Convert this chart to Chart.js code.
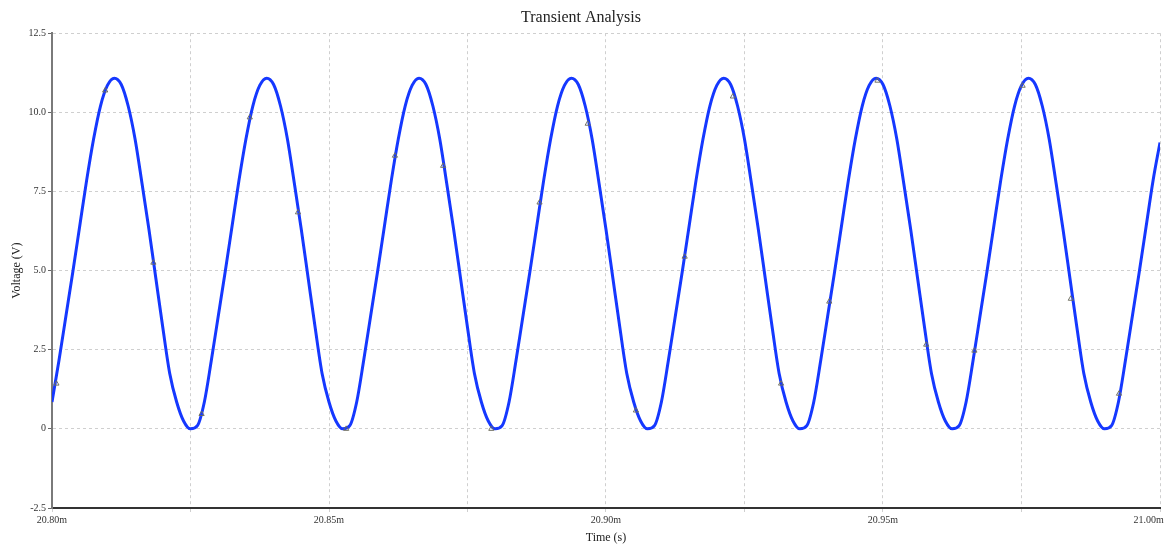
<!DOCTYPE html>
<html lang="en">
<head>
    <meta charset="UTF-8">
    <title>Transient Analysis</title>
    <script src="https://cdn.jsdelivr.net/npm/chart.js"></script>
    <style>
        body {
            margin: 0;
            background: #fff;
        }
    </style>
</head>
<body>
    <canvas id="tran-chart" width="1168" height="547"></canvas>

    <script>
        // Sampling grid of the trace (ms), one sample every 1.25 us
        const t0 = 20.80;
        const sampleStep = 0.00125;

        // Voltage at each sample (V)
        const volts = [
            0.85, 2.15, 3.55, 4.95, 6.40, 7.85, 9.15, 10.20, 10.85, 11.08, 10.88, 10.20, 9.15, 7.75, 6.30, 4.75, 3.20, 1.75, 0.85, 0.25,
            0.00, 0.10, 0.85, 2.15, 3.55, 4.95, 6.40, 7.85, 9.15, 10.20, 10.85, 11.08, 10.88, 10.20, 9.15, 7.75, 6.30, 4.75, 3.20, 1.75, 0.85, 0.25,
            0.00, 0.10, 0.85, 2.15, 3.55, 4.95, 6.40, 7.85, 9.15, 10.20, 10.85, 11.08, 10.88, 10.20, 9.15, 7.75, 6.30, 4.75, 3.20, 1.75, 0.85, 0.25,
            0.00, 0.10, 0.85, 2.15, 3.55, 4.95, 6.40, 7.85, 9.15, 10.20, 10.85, 11.08, 10.88, 10.20, 9.15, 7.75, 6.30, 4.75, 3.20, 1.75, 0.85, 0.25,
            0.00, 0.10, 0.85, 2.15, 3.55, 4.95, 6.40, 7.85, 9.15, 10.20, 10.85, 11.08, 10.88, 10.20, 9.15, 7.75, 6.30, 4.75, 3.20, 1.75, 0.85, 0.25,
            0.00, 0.10, 0.85, 2.15, 3.55, 4.95, 6.40, 7.85, 9.15, 10.20, 10.85, 11.08, 10.88, 10.20, 9.15, 7.75, 6.30, 4.75, 3.20, 1.75, 0.85, 0.25,
            0.00, 0.10, 0.85, 2.15, 3.55, 4.95, 6.40, 7.85, 9.15, 10.20, 10.85, 11.08, 10.88, 10.20, 9.15, 7.75, 6.30, 4.75, 3.20, 1.75, 0.85, 0.25,
            0.00, 0.10, 0.85, 2.15, 3.55, 4.95, 6.40, 7.85, 9.05
        ];

        // Little grey step markers drawn on the trace
        const markerTimes = [20.8008, 20.8096, 20.8183, 20.8270, 20.8357, 20.8444, 20.8531, 20.8619, 20.8706, 20.8793, 20.8880, 20.8967,
            20.9054, 20.9142, 20.9229, 20.9316, 20.9403, 20.9490, 20.9578, 20.9665, 20.9752, 20.9839, 20.9926];
        const markerVolts = [1.43, 10.69, 5.25, 0.47, 9.84, 6.84, 0.00, 8.63, 8.31, 0.00, 7.15, 9.64,
            0.58, 5.44, 10.50, 1.43, 4.02, 11.00, 2.66, 2.47, 10.84, 4.11, 1.11];

        const yTicks = [-2.5, 0, 2.5, 5.0, 7.5, 10.0, 12.5];
        const xMin = 20.80, xMax = 21.00, xMinorStep = 0.025, xLabelStep = 0.05;

        const times = volts.map((v, i) => t0 + i * sampleStep);
        const serif = '"Liberation Serif", "Times New Roman", serif';

        const ctx = document.getElementById('tran-chart').getContext('2d');
        new Chart(ctx, {
            type: 'line',
            data: {
                datasets: [
                    {
                        label: 'markers',
                        data: markerTimes.map((t, i) => ({ x: t, y: markerVolts[i] })),
                        showLine: false,
                        pointStyle: 'triangle',
                        pointRadius: 3,
                        pointBorderWidth: 1,
                        pointBorderColor: 'rgba(110, 110, 95, 0.95)',
                        pointBackgroundColor: 'rgba(0,0,0,0)',
                        order: 0,
                    },
                    {
                        label: 'V(out)',
                        data: times.map((t, i) => ({ x: t, y: volts[i] })),
                        borderColor: '#1538ff',
                        borderWidth: 3,
                        pointRadius: 0,
                        cubicInterpolationMode: 'monotone',
                        fill: false,
                        order: 1,
                    },
                ],
            },
            options: {
                responsive: false,
                animation: false,
                layout: { padding: { left: 2, right: 8, top: 0, bottom: 0 } },
                plugins: {
                    legend: { display: false },
                    tooltip: { enabled: false },
                    title: {
                        display: true,
                        text: 'Transient Analysis',
                        color: '#222',
                        font: { family: serif, size: 16, weight: 'normal' },
                        padding: { top: 8, bottom: 6 },
                    },
                },
                scales: {
                    x: {
                        type: 'linear',
                        min: xMin,
                        max: xMax,
                        afterFit: (scale) => {
                            scale.paddingRight = 0;
                            scale.height = 39;
                        },
                        ticks: {
                            stepSize: xMinorStep,
                            autoSkip: false,
                            maxRotation: 0,
                            padding: 2,
                            color: '#333',
                            font: { family: serif, size: 10 },
                            callback: (v) => {
                                const k = Math.round(v / xLabelStep);
                                if (Math.abs(k * xLabelStep - v) > 1e-6) return '';
                                const s = v.toFixed(2) + 'm';
                                // last label sits inside the plot edge
                                return Math.abs(v - xMax) < 1e-6 ? s + '         ' : s;
                            },
                        },
                        grid: {
                            color: '#cfcfcf',
                            tickColor: '#cfcfcf',
                            tickLength: 4,
                            tickBorderDash: [3, 3],
                        },
                        border: { color: '#333', width: 2, dash: [3, 3] },
                        title: {
                            display: true,
                            text: 'Time (s)',
                            color: '#222',
                            font: { family: serif, size: 12 },
                            padding: { top: 0, bottom: 2 },
                        },
                    },
                    y: {
                        min: -2.5,
                        max: 12.5,
                        afterFit: (scale) => {
                            scale.width = 50;
                        },
                        afterBuildTicks: (scale) => {
                            scale.ticks = yTicks.map(v => ({ value: v }));
                        },
                        ticks: {
                            padding: 2,
                            color: '#333',
                            font: { family: serif, size: 10 },
                            callback: (v) => (v === 0 ? '0' : v.toFixed(1)),
                        },
                        grid: {
                            color: '#cfcfcf',
                            tickColor: '#666',
                            tickLength: 4,
                        },
                        border: { color: '#7a7a7a', width: 2, dash: [3, 3] },
                        title: {
                            display: true,
                            text: 'Voltage (V)',
                            color: '#222',
                            font: { family: serif, size: 12 },
                            padding: { top: 8, bottom: 0 },
                        },
                    },
                },
            },
        });
    </script>
</body>
</html>
